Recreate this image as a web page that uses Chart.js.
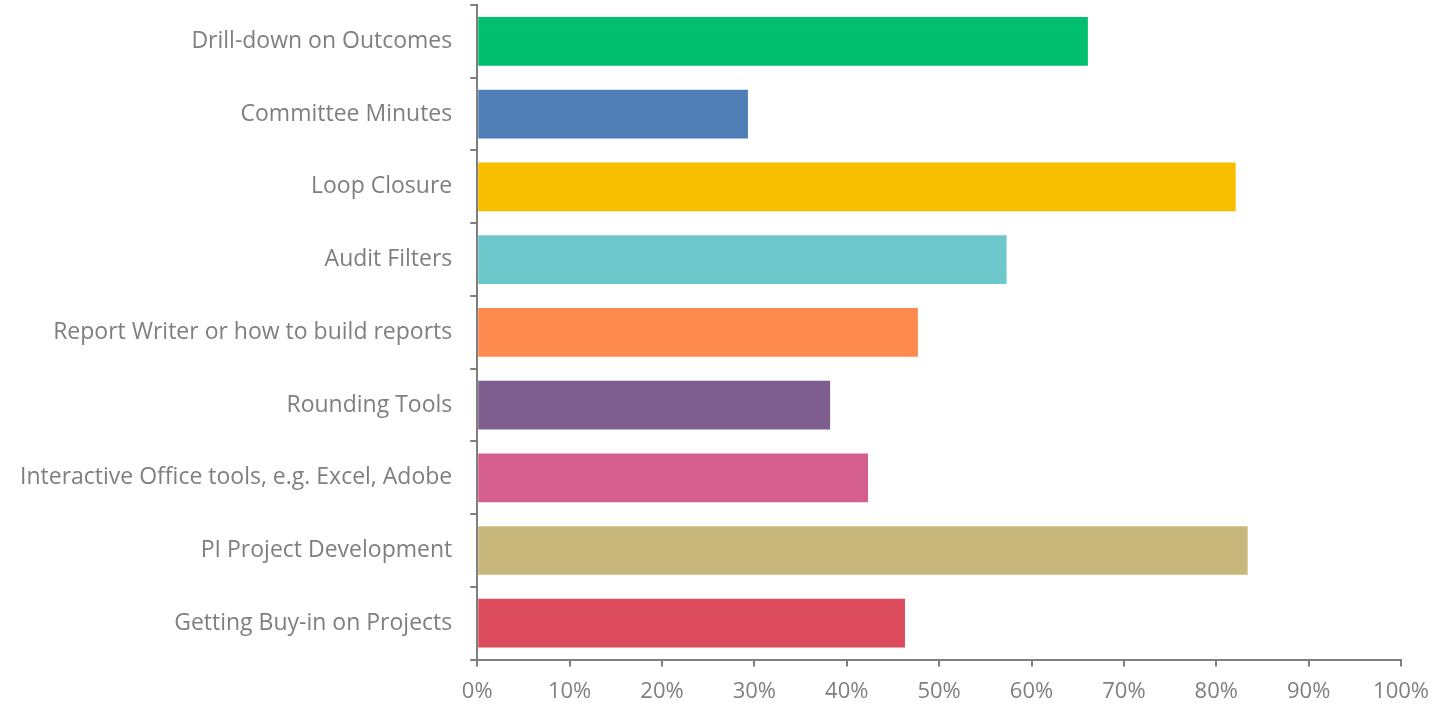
<!DOCTYPE html>
<html>
<head>
<meta charset="utf-8">
<title>Training Topics</title>
<script src="https://cdn.jsdelivr.net/npm/chart.js"></script>
<style>
	body { margin: 0; background: #fff; }
	#wrap { width: 1441px; height: 705px; }
</style>
</head>
<body>
<div id="wrap">
	<canvas id="topicChart" width="1441" height="705"></canvas>
</div>
<script>
// categories, top to bottom
const topics = [
	"Drill-down on Outcomes",
	"Committee Minutes",
	"Loop Closure",
	"Audit Filters",
	"Report Writer or how to build reports",
	"Rounding Tools",
	"Interactive Office tools, e.g. Excel, Adobe",
	"PI Project Development",
	"Getting Buy-in on Projects"
];
// percent of respondents
const percents = [66.1, 29.3, 82.1, 57.3, 47.7, 38.2, 42.3, 83.4, 46.3];
const barColors = ["#00BF6F", "#4F7DB5", "#F8BF00", "#6DC8CC", "#FF8A50", "#7E5E8F", "#D45F8F", "#C8B77A", "#DC4C5C"];
const xTicks = [0, 10, 20, 30, 40, 50, 60, 70, 80, 90, 100];

const gray = "#7F7F7F";
const fontFamily = "'Open Sans', sans-serif";

const config = {
	type: 'bar',
	data: {
		labels: topics,
		datasets: [{
			data: percents,
			backgroundColor: barColors,
			borderWidth: 0,
			categoryPercentage: 1,
			barPercentage: 0.67
		}]
	},
	options: {
		indexAxis: 'y',
		responsive: false,
		animation: false,
		layout: { padding: { top: 5, right: 8, bottom: -12, left: 2 } },
		plugins: {
			legend: { display: false },
			tooltip: { enabled: false }
		},
		scales: {
			x: {
				min: 0,
				max: 100,
				afterBuildTicks: function(axis) {
					axis.ticks = xTicks.map(v => ({ value: v }));
				},
				ticks: {
					color: gray,
					font: { family: fontFamily, size: 22 },
					padding: 12,
					maxRotation: 0,
					callback: v => v + '%'
				},
				grid: {
					drawOnChartArea: false,
					drawTicks: true,
					tickLength: 7,
					color: gray,
					lineWidth: 2
				},
				border: { color: gray, width: 2 }
			},
			y: {
				// labels sit inside category bands, no extra room needed above/below
				afterFit: function(axis) {
					axis.paddingTop = 0;
					axis.paddingBottom = 0;
				},
				ticks: {
					color: gray,
					font: { family: fontFamily, size: 23 },
					padding: 18
				},
				grid: {
					drawOnChartArea: false,
					drawTicks: true,
					tickLength: 7,
					color: gray,
					lineWidth: 2
				},
				border: { color: gray, width: 2 }
			}
		}
	}
};

new Chart(document.getElementById('topicChart'), config);
</script>
</body>
</html>
